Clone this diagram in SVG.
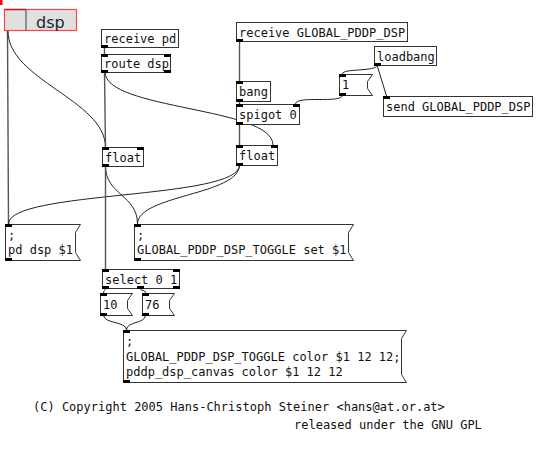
<svg xmlns="http://www.w3.org/2000/svg" width="560" height="456" viewBox="0 0 560 456">
<style>
.box{fill:#fff;stroke:#333;stroke-width:1}
.io{fill:#000}
.t{font-family:"DejaVu Sans Mono","Liberation Mono",monospace;font-size:12px;fill:#111}
.c{fill:none;stroke:#222;stroke-width:1}
.cv{fill:none;stroke:#555;stroke-width:1.4}
</style>
<rect width="560" height="456" fill="#fff"/>
<g id="connectors">
<path class="cv" d="M7.5 31 L8.5 224"/>
<path class="c" d="M8 31 C8 80, 105 100, 105.5 147"/>
<path class="cv" d="M104.5 47 L104.5 54"/>
<path class="cv" d="M104.5 72 L105.5 147"/>
<path class="c" d="M105 72 C105 110, 273 107, 273 145"/>
<path class="cv" d="M239.5 41 L239.5 81"/>
<path class="cv" d="M239.5 101 L239.5 104"/>
<path class="cv" d="M239.5 124 L239.5 145"/>
<path class="c" d="M377 65 C377 72, 342.5 68, 342.5 74"/>
<path class="c" d="M377 65 L386.5 96"/>
<path class="c" d="M342.5 95 C342.5 104, 295.5 95, 295.5 104"/>
<path class="c" d="M239.5 165 C239.5 200, 8.5 190, 8.5 224"/>
<path class="c" d="M239.5 165 C239.5 195, 137.5 195, 137.5 224"/>
<path class="c" d="M105.5 166 C105.5 195, 137.5 195, 137.5 224"/>
<path class="cv" d="M105.5 166 L105.5 269"/>
<path class="c" d="M105.5 288 C105.5 291, 103.5 290, 103.5 293"/>
<path class="c" d="M140.5 288 C140.5 292, 145.5 289, 145.5 293"/>
<path class="c" d="M103.5 315 C103.5 324, 126.5 321, 126.5 330"/>
<path class="c" d="M145.5 315 C145.5 324, 126.5 321, 126.5 330"/>
</g>
<rect x="0" y="0" width="2.5" height="5" fill="#f00"/>
<g id="dsp-toggle">
<rect x="4.5" y="9.5" width="72" height="21" fill="#e0e0e0" stroke="#f44" stroke-width="1.2"/>
<line x1="26" y1="9.5" x2="26" y2="30.5" stroke="#444" stroke-width="1"/>
<line x1="4.5" y1="9.5" x2="26" y2="9.5" stroke="#b22" stroke-width="1.5"/>
<text x="36" y="27.5" font-family="DejaVu Sans,sans-serif" font-size="16" fill="#1e2230">dsp</text>
</g>
<g id="receive-pd">
<rect class="box" x="101.5" y="29.5" width="77" height="18"/>
<rect class="io" x="101" y="45" width="7" height="3"/>
<text class="t" x="104" y="43">receive pd</text>
</g>
<g id="route-dsp">
<rect class="box" x="101.5" y="54.5" width="69" height="18"/>
<rect class="io" x="101" y="54" width="7" height="3"/>
<rect class="io" x="164" y="54" width="7" height="3"/>
<rect class="io" x="101" y="70" width="7" height="3"/>
<rect class="io" x="164" y="70" width="7" height="3"/>
<text class="t" x="104" y="68">route dsp</text>
</g>
<g id="float-left">
<rect class="box" x="102.5" y="147.5" width="41" height="19"/>
<rect class="io" x="102" y="147" width="7" height="3"/>
<rect class="io" x="137" y="147" width="7" height="3"/>
<rect class="io" x="102" y="164" width="7" height="3"/>
<text class="t" x="105" y="162">float</text>
</g>
<g id="receive-global">
<rect class="box" x="236.5" y="22.5" width="171" height="19"/>
<rect class="io" x="236" y="39" width="7" height="3"/>
<text class="t" x="239" y="37">receive GLOBAL_PDDP_DSP</text>
</g>
<g id="loadbang">
<rect class="box" x="374.5" y="46.5" width="62" height="19"/>
<rect class="io" x="374" y="63" width="7" height="3"/>
<text class="t" x="377" y="61">loadbang</text>
</g>
<g id="msg-1">
<path class="box" d="M339.5 74.5 H372.5 L367.5 81.5 V88.5 L372.5 95.5 H339.5 Z"/>
<rect class="io" x="339" y="74" width="7" height="3"/>
<rect class="io" x="339" y="93" width="7" height="3"/>
<text class="t" x="342" y="89">1</text>
</g>
<g id="send-global">
<rect class="box" x="383.5" y="96.5" width="149" height="20"/>
<rect class="io" x="383" y="96" width="7" height="3"/>
<text class="t" x="386" y="111">send GLOBAL_PDDP_DSP</text>
</g>
<g id="bang">
<rect class="box" x="236.5" y="81.5" width="34" height="20"/>
<rect class="io" x="236" y="81" width="7" height="3"/>
<rect class="io" x="236" y="99" width="7" height="3"/>
<text class="t" x="239" y="96">bang</text>
</g>
<g id="spigot">
<rect class="box" x="236.5" y="104.5" width="63" height="20"/>
<rect class="io" x="236" y="104" width="7" height="3"/>
<rect class="io" x="293" y="104" width="7" height="3"/>
<rect class="io" x="236" y="122" width="7" height="3"/>
<text class="t" x="239" y="119">spigot 0</text>
</g>
<g id="float-right">
<rect class="box" x="236.5" y="145.5" width="41" height="20"/>
<rect class="io" x="236" y="145" width="7" height="3"/>
<rect class="io" x="271" y="145" width="7" height="3"/>
<rect class="io" x="236" y="163" width="7" height="3"/>
<text class="t" x="239" y="160">float</text>
</g>
<g id="msg-pd-dsp">
<path class="box" d="M5.5 224.5 H80.5 L75.5 232.5 V252.5 L80.5 260.5 H5.5 Z"/>
<rect class="io" x="5" y="224" width="7" height="3"/>
<rect class="io" x="5" y="258" width="7" height="3"/>
<text class="t" x="8" y="239">;</text>
<text class="t" x="8" y="254">pd dsp $1</text>
</g>
<g id="msg-toggle-set">
<path class="box" d="M134.5 224.5 H353.5 L348.5 232.5 V252.5 L353.5 260.5 H134.5 Z"/>
<rect class="io" x="134" y="224" width="7" height="3"/>
<rect class="io" x="134" y="258" width="7" height="3"/>
<text class="t" x="137" y="239">;</text>
<text class="t" x="137" y="254">GLOBAL_PDDP_DSP_TOGGLE set $1</text>
</g>
<g id="select">
<rect class="box" x="102.5" y="269.5" width="77" height="19"/>
<rect class="io" x="102" y="269" width="7" height="3"/>
<rect class="io" x="173" y="269" width="7" height="3"/>
<rect class="io" x="102" y="286" width="7" height="3"/>
<rect class="io" x="137" y="286" width="7" height="3"/>
<rect class="io" x="173" y="286" width="7" height="3"/>
<text class="t" x="105" y="284">select 0 1</text>
</g>
<g id="msg-10">
<path class="box" d="M100.5 293.5 H132.5 L127.5 300.5 V308.5 L132.5 315.5 H100.5 Z"/>
<rect class="io" x="100" y="293" width="7" height="3"/>
<rect class="io" x="100" y="313" width="7" height="3"/>
<text class="t" x="103" y="309">10</text>
</g>
<g id="msg-76">
<path class="box" d="M142.5 293.5 H174.5 L169.5 300.5 V308.5 L174.5 315.5 H142.5 Z"/>
<rect class="io" x="142" y="293" width="7" height="3"/>
<rect class="io" x="142" y="313" width="7" height="3"/>
<text class="t" x="145" y="309">76</text>
</g>
<g id="msg-color">
<path class="box" d="M123.5 330.5 H406.5 L401.5 338.5 V374.5 L406.5 382.5 H123.5 Z"/>
<rect class="io" x="123" y="330" width="7" height="3"/>
<rect class="io" x="123" y="380" width="7" height="3"/>
<text class="t" x="126" y="345">;</text>
<text class="t" x="126" y="361">GLOBAL_PDDP_DSP_TOGGLE color $1 12 12;</text>
<text class="t" x="126" y="376">pddp_dsp_canvas color $1 12 12</text>
</g>
<g id="comment">
<text class="t" x="33" y="411" fill="#222">(C) Copyright 2005 Hans-Christoph Steiner &lt;hans@at.or.at&gt;</text>
<text class="t" x="294" y="429" fill="#222">released under the GNU GPL</text>
</g>
</svg>
